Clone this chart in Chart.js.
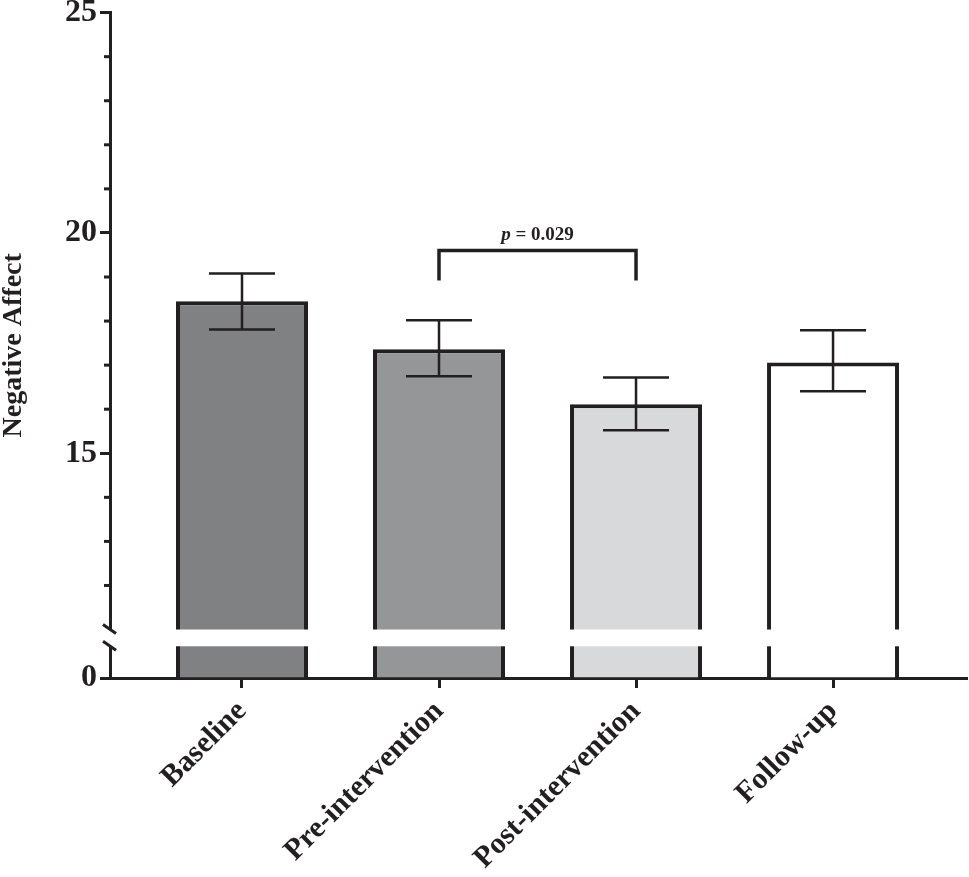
<!DOCTYPE html>
<html>
<head>
<meta charset="utf-8">
<script src="https://cdn.jsdelivr.net/npm/chart.js@4.4.1/dist/chart.umd.min.js"></script>
<style>
	html, body { margin: 0; padding: 0; background: #fff; }
	#wrap { width: 969px; height: 877px; }
</style>
</head>
<body>
<div id="wrap"><canvas id="negativeAffectChart" width="969" height="877"></canvas></div>
<script>
// values
var categories = ['Baseline', 'Pre-intervention', 'Post-intervention', 'Follow-up'];
var means = [18.45, 17.36, 16.11, 17.06];
var errorHigh = [19.08, 18.02, 16.72, 17.79];
var errorLow = [17.81, 16.75, 15.52, 16.41];
var barColors = ['#808183', '#959698', '#d8d9db', '#ffffff'];

var majorTicks = [15, 20, 25];
var minorTicks = [12, 13, 14, 16, 17, 18, 19, 21, 22, 23, 24];
var axisBottom = 9.9;   // the "0" sits here, below the break
var axisTop = 25;
var breakLow = 10.62;   // white gap in bars and axis
var breakHigh = 11.0;

var comparison = { from: 1, to: 2, top: 19.6, legEnd: 18.92, labelAt: 19.85, pLabel: 'p', rest: ' = 0.029' };

var INK = '#231f20';
var SERIF = '"Liberation Serif", "Times New Roman", serif';

Chart.defaults.font.family = SERIF;
Chart.defaults.color = INK;

function isMinor(v) {
	return minorTicks.indexOf(v) !== -1;
}

var decorPlugin = {
	id: 'decor',
	afterDatasetsDraw: function(chart) {
		var ctx = chart.ctx;
		var y = chart.scales.y;
		var area = chart.chartArea;
		var meta = chart.getDatasetMeta(0);
		ctx.save();

		// axis break: white stripe through bars and axis line
		var pTop = y.getPixelForValue(breakHigh);
		var pBot = y.getPixelForValue(breakLow);
		ctx.fillStyle = '#ffffff';
		ctx.fillRect(area.left - 14, pTop, area.right - area.left + 14, pBot - pTop);
		ctx.strokeStyle = INK;
		ctx.lineWidth = 3;
		[pTop, pBot].forEach(function(py) {
			ctx.beginPath();
			ctx.moveTo(area.left - 7, py - 5);
			ctx.lineTo(area.left + 6, py + 4);
			ctx.stroke();
		});

		// minor ticks (shorter than the major ones)
		ctx.lineWidth = 3;
		minorTicks.forEach(function(v) {
			var py = y.getPixelForValue(v);
			ctx.beginPath();
			ctx.moveTo(area.left - 6, py);
			ctx.lineTo(area.left, py);
			ctx.stroke();
		});

		// error bars
		ctx.lineWidth = 2.5;
		meta.data.forEach(function(bar, i) {
			var hi = y.getPixelForValue(errorHigh[i]);
			var lo = y.getPixelForValue(errorLow[i]);
			var half = bar.width * 0.25;
			ctx.beginPath();
			ctx.moveTo(bar.x, hi);
			ctx.lineTo(bar.x, lo);
			ctx.moveTo(bar.x - half, hi);
			ctx.lineTo(bar.x + half, hi);
			ctx.moveTo(bar.x - half, lo);
			ctx.lineTo(bar.x + half, lo);
			ctx.stroke();
		});

		// significance bracket
		var x1 = meta.data[comparison.from].x;
		var x2 = meta.data[comparison.to].x;
		var top = y.getPixelForValue(comparison.top);
		var leg = y.getPixelForValue(comparison.legEnd);
		ctx.lineWidth = 3.5;
		ctx.beginPath();
		ctx.moveTo(x1, leg);
		ctx.lineTo(x1, top);
		ctx.lineTo(x2, top);
		ctx.lineTo(x2, leg);
		ctx.stroke();

		var italic = 'italic bold 19px ' + SERIF;
		var bold = 'bold 19px ' + SERIF;
		ctx.font = italic;
		var w1 = ctx.measureText(comparison.pLabel).width;
		ctx.font = bold;
		var w2 = ctx.measureText(comparison.rest).width;
		var startX = (x1 + x2) / 2 - (w1 + w2) / 2;
		var baseY = y.getPixelForValue(comparison.labelAt);
		ctx.fillStyle = INK;
		ctx.textBaseline = 'alphabetic';
		ctx.textAlign = 'left';
		ctx.font = italic;
		ctx.fillText(comparison.pLabel, startX, baseY);
		ctx.font = bold;
		ctx.fillText(comparison.rest, startX + w1, baseY);

		ctx.restore();
	}
};

var chart = new Chart(document.getElementById('negativeAffectChart').getContext('2d'), {
	type: 'bar',
	data: {
		datasets: [{
			data: means.map(function(v, i) { return { x: i, y: v }; }),
			base: axisBottom,
			backgroundColor: barColors,
			borderColor: INK,
			borderWidth: 4,
			borderSkipped: 'start',
			barPercentage: 0.67,
			categoryPercentage: 1
		}]
	},
	options: {
		responsive: false,
		animation: false,
		layout: { padding: { top: 0, right: 2, bottom: 0, left: 0 } },
		plugins: {
			legend: { display: false },
			tooltip: { enabled: false }
		},
		scales: {
			x: {
				type: 'linear',
				offset: false,
				min: -0.67,
				max: 3.68,
				afterBuildTicks: function(scale) {
					scale.ticks = categories.map(function(c, i) { return { value: i }; });
				},
				afterFit: function(scale) { scale.height = 199; },
				ticks: {
					autoSkip: false,
					minRotation: 45,
					maxRotation: 45,
					padding: 6,
					color: INK,
					font: { size: 30, weight: 'bold' },
					callback: function(v) { return categories[v]; }
				},
				grid: {
					offset: false,
					drawOnChartArea: false,
					tickLength: 10,
					tickWidth: 3,
					tickColor: INK
				},
				border: { display: true, color: INK, width: 3 }
			},
			y: {
				min: axisBottom,
				max: axisTop,
				afterBuildTicks: function(scale) {
					var t = [{ value: axisBottom }];
					for (var v = 12; v <= 25; v++) t.push({ value: v });
					scale.ticks = t;
				},
				afterFit: function(scale) { scale.width = 110; },
				ticks: {
					autoSkip: false,
					padding: 3,
					color: INK,
					font: { size: 32, weight: 'bold', lineHeight: 0.6 },
					callback: function(v) {
						if (v === axisBottom) return '0';
						return majorTicks.indexOf(v) !== -1 ? String(v) : '';
					}
				},
				grid: {
					drawOnChartArea: false,
					tickLength: 10,
					tickWidth: 3,
					tickColor: function(c) {
						return c.tick && isMinor(c.tick.value) ? 'rgba(0,0,0,0)' : INK;
					}
				},
				border: { display: true, color: INK, width: 3 },
				title: {
					display: true,
					text: 'Negative Affect',
					color: INK,
					padding: { top: 0, bottom: 0 },
					font: { size: 28, weight: 'bold', lineHeight: 1 }
				}
			}
		}
	},
	plugins: [decorPlugin]
});
</script>
</body>
</html>
